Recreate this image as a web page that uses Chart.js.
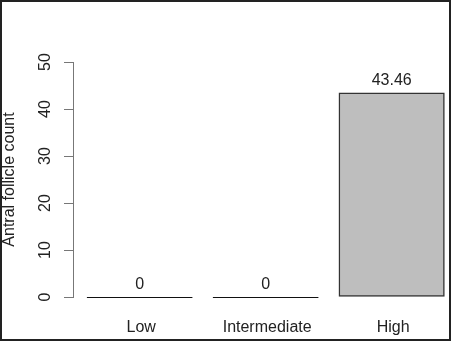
<!DOCTYPE html>
<html>
<head>
<meta charset="utf-8">
<script src="https://cdn.jsdelivr.net/npm/chart.js@4.4.0/dist/chart.umd.min.js"></script>
<style>
html,body{margin:0;padding:0;background:#fff;overflow:hidden;}
canvas{display:block;}
</style>
</head>
<body>
<canvas id="c" width="451" height="341"></canvas>
<script>
const categories = ["Low", "Intermediate", "High"];
const values = [0, 0, 43.46];
const valueLabels = ["0", "0", "43.46"];
const yTicks = [0, 10, 20, 30, 40, 50];
const yTitle = "Antral follicle count";

const FONT = '16px "Liberation Sans", Arial, sans-serif';
const TEXT = '#222';

const rPlugin = {
  id: 'rstyle',
  afterDatasetsDraw(chart) {
    const ctx = chart.ctx;
    const meta = chart.getDatasetMeta(0);
    const xs = chart.scales.x, ys = chart.scales.y;
    ctx.save();
    // zero-height bars as lines
    meta.data.forEach((el, i) => {
      const w = el.width;
      if (Math.abs(el.base - el.y) < 1) {
        ctx.strokeStyle = '#111';
        ctx.lineWidth = 1.2;
        ctx.beginPath();
        ctx.moveTo(el.x - w / 2, Math.round(el.y) + 0.5);
        ctx.lineTo(el.x + w / 2, Math.round(el.y) + 0.5);
        ctx.stroke();
      }
    });
    ctx.font = FONT;
    ctx.fillStyle = TEXT;
    ctx.textAlign = 'center';
    ctx.textBaseline = 'alphabetic';
    // value labels
    meta.data.forEach((el, i) => {
      ctx.fillText(valueLabels[i], el.x, el.y - 8);
    });
    // category labels
    categories.forEach((c, i) => {
      ctx.fillText(c, xs.getPixelForValue(i) + 1.5, 331.5);
    });
    // y tick labels (rotated)
    yTicks.forEach(t => {
      const y = ys.getPixelForValue(t);
      ctx.save();
      ctx.translate(50, y);
      ctx.rotate(-Math.PI / 2);
      ctx.fillText(String(t), 0, 0);
      ctx.restore();
    });
    // y title
    ctx.save();
    ctx.translate(14, (ys.getPixelForValue(0) + ys.getPixelForValue(50)) / 2);
    ctx.rotate(-Math.PI / 2);
    ctx.fillText(yTitle, 0, 0);
    ctx.restore();
    // frame
    ctx.strokeStyle = '#222';
    ctx.lineWidth = 2;
    ctx.strokeRect(1, 1, 449, 339);
    ctx.restore();
  }
};

new Chart(document.getElementById('c'), {
  type: 'bar',
  data: {
    datasets: [{
      data: values.map((v, i) => ({ x: i, y: v })),
      backgroundColor: '#bebebe',
      borderColor: '#333',
      borderWidth: 1.5,
      borderSkipped: false,
      barThickness: 105.5
    }]
  },
  options: {
    responsive: false,
    devicePixelRatio: 1,
    animation: false,
    layout: { padding: { top: 62, left: 0, right: 0, bottom: 0 } },
    plugins: { legend: { display: false }, tooltip: { enabled: false }, title: { display: false } },
    scales: {
      x: {
        type: 'linear',
        offset: false,
        min: -0.529,
        max: 2.471,
        ticks: { display: false },
        grid: { display: false, offset: false },
        border: { display: false },
        afterFit(s) { s.height = 44; }
      },
      y: {
        type: 'linear',
        min: 0,
        max: 50,
        ticks: { display: false, stepSize: 10 },
        grid: { drawOnChartArea: false, drawTicks: true, tickLength: 9, color: '#777', lineWidth: 1 },
        border: { display: true, color: '#777', width: 1 },
        afterFit(s) { s.width = 73; }
      }
    }
  },
  plugins: [rPlugin]
});
</script>
</body>
</html>
